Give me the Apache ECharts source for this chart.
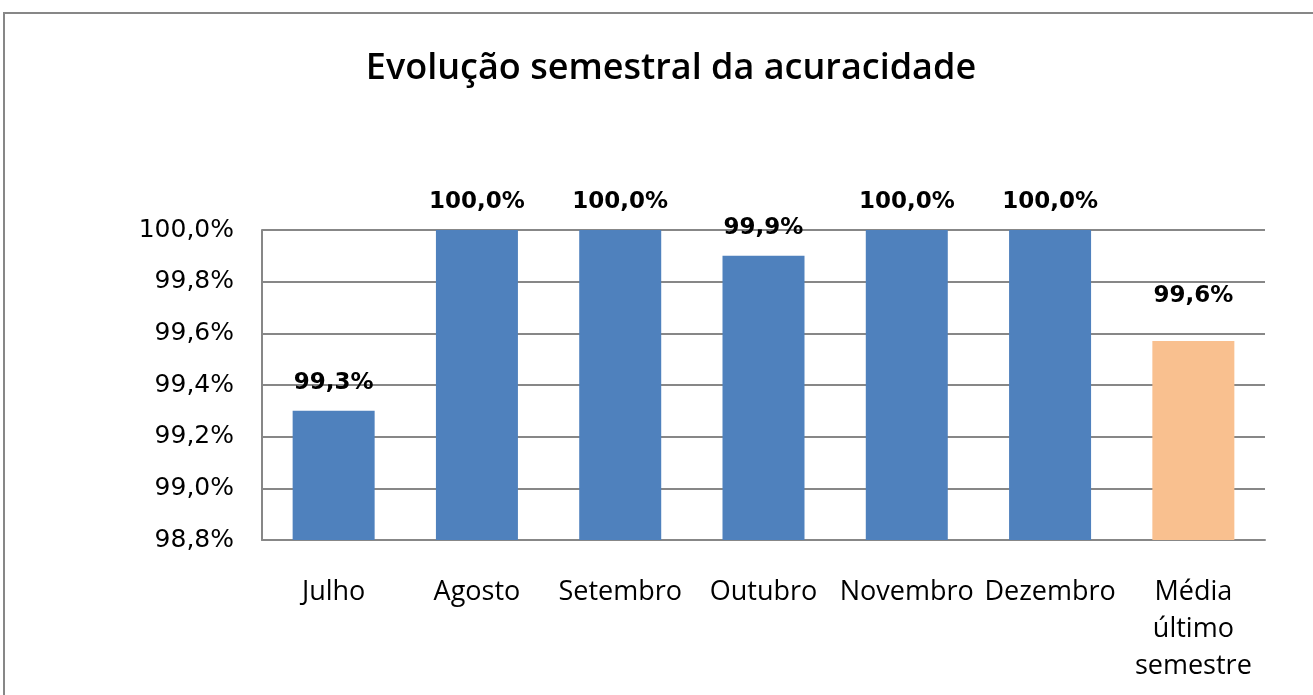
<!DOCTYPE html>
<html>
<head>
<meta charset="utf-8">
<script src="https://cdn.jsdelivr.net/npm/echarts@6/dist/echarts.min.js"></script>
<style>
  html, body { margin: 0; padding: 0; background: #fff; }
  #main { width: 1313px; height: 695px; }
</style>
</head>
<body>
<div id="main"></div>
<script>
// dados do gráfico
const categorias = ["Julho", "Agosto", "Setembro", "Outubro", "Novembro", "Dezembro", "Média\núltimo\nsemestre"];
const acuracidade = [99.3, 100.0, 100.0, 99.9, 100.0, 100.0, 99.57];
const ticksY = [98.8, 99.0, 99.2, 99.4, 99.6, 99.8, 100.0];

const azul = "#4F81BD";
const laranja = "#F9C08F";
const cinza = "#878787";

const fmt = (v) => Number(v).toFixed(1).replace(".", ",") + "%";

const chart = echarts.init(document.getElementById("main"));

const dados = acuracidade.map((v, i) => {
  if (i === acuracidade.length - 1) {
    // barra da média em laranja
    return { value: v, itemStyle: { color: laranja }, label: { distance: 34 } };
  }
  return v;
});

chart.setOption({
  animation: false,
  backgroundColor: "#fff",
  graphic: [
    {
      type: "rect",
      shape: { x: 4, y: 13, width: 1400, height: 800 },
      style: { fill: "none", stroke: cinza, lineWidth: 2 },
      silent: true
    }
  ],
  title: {
    text: "Evolução semestral da acuracidade",
    left: 666,
    textAlign: "center",
    top: 46,
    textStyle: {
      fontFamily: "Open Sans",
      fontSize: 36,
      fontWeight: 600,
      color: "#000"
    }
  },
  grid: { left: 262, right: 48, top: 230, bottom: 155 },
  xAxis: {
    type: "category",
    data: categorias,
    axisLine: { show: true, lineStyle: { color: cinza, width: 2 } },
    axisTick: { show: false },
    axisLabel: {
      interval: 0,
      margin: 34,
      fontFamily: "Open Sans",
      fontSize: 27,
      lineHeight: 37,
      color: "#000"
    }
  },
  yAxis: {
    type: "value",
    min: ticksY[0],
    max: ticksY[ticksY.length - 1],
    interval: 0.2,
    axisLine: { show: true, lineStyle: { color: cinza, width: 2 } },
    axisTick: { show: false },
    splitLine: { lineStyle: { color: cinza, width: 2 } },
    axisLabel: {
      margin: 28,
      formatter: fmt,
      fontFamily: "DejaVu Sans",
      fontSize: 25,
      color: "#000"
    }
  },
  series: [
    {
      type: "bar",
      data: dados,
      barWidth: 82,
      itemStyle: { color: azul },
      label: {
        show: true,
        position: "top",
        distance: 16,
        formatter: (p) => fmt(p.value),
        fontFamily: "DejaVu Sans",
        fontWeight: "bold",
        fontSize: 23,
        color: "#000"
      }
    }
  ]
});
</script>
</body>
</html>
